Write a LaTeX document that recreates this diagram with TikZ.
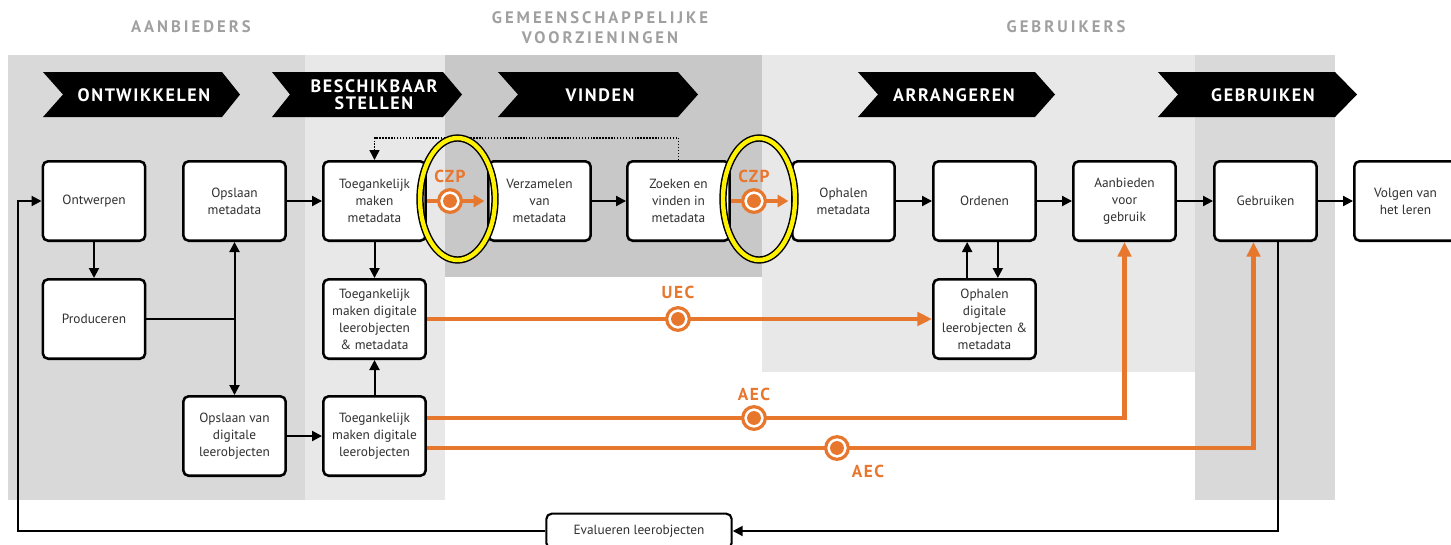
\documentclass[tikz,border=0pt]{standalone}
\usepackage{fontspec}
\setmainfont{PT Sans}
\newfontfamily\headfont[LetterSpace=18]{PT Sans}
\newfontfamily\bannerfont[LetterSpace=9]{PT Sans}
\usetikzlibrary{arrows.meta,positioning}
\definecolor{czporange}{HTML}{E8772E}
\definecolor{paneldark}{HTML}{D9D9D9}
\definecolor{panellight}{HTML}{E8E8E8}
\definecolor{panelmid}{HTML}{C8C8C8}
\definecolor{headgray}{HTML}{A0A0A0}
\definecolor{boxtext}{HTML}{303030}

\begin{document}
\begin{tikzpicture}[x=0.75pt,y=0.75pt,yscale=-1,xscale=1,
  stepbox/.style={draw, line width=1.9pt, rounded corners=4pt, fill=white, text=boxtext,
    minimum width=76.8pt, minimum height=59.6pt, inner sep=2pt, align=center,
    font=\fontsize{10}{12.75}\selectfont},
  headtext/.style={text=headgray, align=center, font=\headfont\bfseries\fontsize{12.5}{15}\selectfont},
  bannertext/.style={text=white, align=center, font=\bannerfont\bfseries\fontsize{13.5}{12.75}\selectfont},
  flow/.style={line width=1.5pt, -{Triangle[length=7.5pt,width=7.5pt]}},
  plainline/.style={line width=1.5pt},
  dotline/.style={line width=1.1pt, dash pattern=on 1.1pt off 1.1pt, -{Triangle[length=7.5pt,width=7.5pt]}},
  orangeflow/.style={draw=czporange, line width=3.5pt, -{Triangle[length=11pt,width=10pt]}},
  czpflow/.style={draw=czporange, line width=3.5pt, shorten >=2pt, -{Triangle[length=8pt,width=9pt]}},
  marker/.style={circle, draw=czporange, line width=2.4pt, fill=white, minimum size=17pt, inner sep=0pt,
    path picture={\fill[czporange] (path picture bounding box.center) circle (5.2pt);}},
  markerlabel/.style={text=czporange, inner sep=0pt, font=\bannerfont\bfseries\fontsize{13}{13}\selectfont},
  ring/.style={line width=5.5pt}
]
\useasboundingbox (0,0) rectangle (1451,544);

%Shape: Rectangle [panels]
\fill [paneldark] (8,55) rectangle (305,500) ;
\fill [panellight] (305,55) rectangle (445,500) ;
\fill [panelmid] (445,55) rectangle (762,277) ;
\fill [panellight] (762,55) rectangle (1195,372) ;
\fill [paneldark] (1195,55) rectangle (1335,500) ;

% Text Node
\node [headtext] (aanbieders) at (191,27) {AANBIEDERS};
% Text Node
\node [headtext] (gemeensch) at (600,28) {GEMEENSCHAPPELIJKE\\VOORZIENINGEN};
% Text Node
\node [headtext] (gebruikers) at (1066,27) {GEBRUIKERS};

%Shape: Banner [ontwikkelen]
\fill (43,72) -- (222,72) -- (240,94.5) -- (222,117) -- (43,117) -- (63,94.5) -- cycle ;
%Shape: Banner [beschikbaar]
\fill (272,72) -- (443,72) -- (462,94.5) -- (443,117) -- (272,117) -- (290,94.5) -- cycle ;
%Shape: Banner [vinden]
\fill (498,72) -- (678,72) -- (698,94.5) -- (678,117) -- (498,117) -- (518,94.5) -- cycle ;
%Shape: Banner [arrangeren]
\fill (858,72) -- (1035,72) -- (1055,94.5) -- (1035,117) -- (858,117) -- (878,94.5) -- cycle ;
%Shape: Banner [gebruiken]
\fill (1158,72) -- (1335,72) -- (1357,94.5) -- (1335,117) -- (1158,117) -- (1178,94.5) -- cycle ;

% Text Node
\node [bannertext] (bontw) at (144,95) {ONTWIKKELEN};
% Text Node
\node [bannertext] (bbesch) at (374,95) {BESCHIKBAAR\\STELLEN};
% Text Node
\node [bannertext] (bvind) at (600,95) {VINDEN};
% Text Node
\node [bannertext] (barr) at (954,95) {ARRANGEREN};
% Text Node
\node [bannertext] (bgebr) at (1263,95) {GEBRUIKEN};

% Process boxes
\node [stepbox] (ontwerpen) at (94,201) {Ontwerpen};
\node [stepbox] (opslaanmeta) at (234.5,201) {Opslaan\\metadata};
\node [stepbox] (toegmeta) at (374.5,201) {Toegankelijk\\maken\\metadata};
\node [stepbox] (verzamelen) at (539.5,201) {Verzamelen\\van\\metadata};
\node [stepbox] (zoeken) at (678.5,201) {Zoeken en\\vinden in\\metadata};
\node [stepbox] (ophalenmeta) at (843.5,201) {Ophalen\\metadata};
\node [stepbox] (ordenen) at (984.5,201) {Ordenen};
\node [stepbox] (aanbieden) at (1124.5,201) {Aanbieden\\voor\\gebruik};
\node [stepbox] (gebruiken) at (1265.5,201) {Gebruiken};
\node [stepbox] (volgen) at (1405.5,201) {Volgen van\\het leren};
\node [stepbox] (produceren) at (94,319) {Produceren};
\node [stepbox] (toegmetalo) at (374.5,319) {Toegankelijk\\maken digitale\\leerobjecten\\\& metadata};
\node [stepbox] (ophalenlo) at (984.5,319) {Ophalen\\digitale\\leerobjecten \&\\metadata};
\node [stepbox] (opslaanlo) at (234.5,436) {Opslaan van\\digitale\\leerobjecten};
\node [stepbox] (toeglo) at (374.5,436) {Toegankelijk\\maken digitale\\leerobjecten};
\node [stepbox, line width=1.6pt, minimum width=139pt, minimum height=26pt] (evalueren) at (639,531) {Evalueren leerobjecten};

%Straight Lines [black flow]
\draw [flow] (ontwerpen) -- (produceren) ;
\draw [flow] (opslaanmeta) -- (toegmeta) ;
\draw [flow] (toegmeta) -- (toegmetalo) ;
\draw [flow] (toeglo) -- (toegmetalo) ;
\draw [flow] (verzamelen) -- (zoeken) ;
\draw [flow] (ophalenmeta) -- (ordenen) ;
\draw [flow] (ordenen) -- (aanbieden) ;
\draw [flow] (aanbieden) -- (gebruiken) ;
\draw [flow] (gebruiken) -- (volgen) ;
\draw [flow] (opslaanlo) -- (toeglo) ;
\draw [flow] ([xshift=-13pt]ophalenlo.north) -- ([xshift=-13pt]ordenen.south) ;
\draw [flow] ([xshift=10pt]ordenen.south) -- ([xshift=10pt]ophalenlo.north) ;

%Straight Lines [split after produceren]
\coordinate (split) at (opslaanmeta.south |- produceren.east) ;
\draw [plainline] (produceren.east) -- (split) ;
\draw [flow] (split) -- (opslaanmeta.south) ;
\draw [flow] (split) -- (opslaanlo.north) ;

%Straight Lines [feedback loop]
\coordinate (loopcorner) at (18,531) ;
\draw [flow] (evalueren.west) -- (loopcorner) |- (ontwerpen.west) ;
\draw [flow] ([xshift=9pt]gebruiken.south) |- (evalueren.east) ;

%Straight Lines [dotted return]
\coordinate (dottop) at (0,138) ;
\draw [dotline] (zoeken.north) -- (zoeken.north |- dottop) -| (toegmeta.north) ;

%Straight Lines [orange]
\coordinate (aecrow1) at (0,418) ;
\coordinate (aecrow2) at (0,448) ;
\draw [orangeflow] (toegmetalo) -- (ophalenlo) ;
\draw [orangeflow] (toeglo.east |- aecrow1) -| (aanbieden.south) ;
\draw [orangeflow] (toeglo.east |- aecrow2) -| ([xshift=-9pt]gebruiken.south) ;
\draw [czpflow] (toegmeta) -- (verzamelen) ;
\draw [czpflow] (zoeken) -- (ophalenmeta) ;

% Markers
\node [marker] (czp1) at (450,201) {};
\node [marker] (czp2) at (754,201) {};
\node [marker] (uec) at (678,319) {};
\node [marker] (aec1) at (754,418) {};
\node [marker] (aec2) at (837,448) {};

% Text Node
\node [markerlabel, above=4pt of czp1] (czp1lbl) {CZP};
% Text Node
\node [markerlabel, above=4pt of czp2] (czp2lbl) {CZP};
% Text Node
\node [markerlabel, above=5pt of uec] (ueclbl) {UEC};
% Text Node
\node [markerlabel, above=3pt of aec1] (aec1lbl) {AEC};
% Text Node
\node [markerlabel, below right=6pt and 4pt of aec2] (aec2lbl) {AEC};

%Shape: Ellipse [highlight]
\draw [ring, black] (457.5,199) ellipse [x radius=37.5, y radius=61] ;
\draw [ring, line width=3.3pt, yellow] (457.5,199) ellipse [x radius=37.5, y radius=61] ;
%Shape: Ellipse [highlight]
\draw [ring, black] (759,199) ellipse [x radius=36, y radius=61] ;
\draw [ring, line width=3.3pt, yellow] (759,199) ellipse [x radius=36, y radius=61] ;
\end{tikzpicture}
\end{document}
